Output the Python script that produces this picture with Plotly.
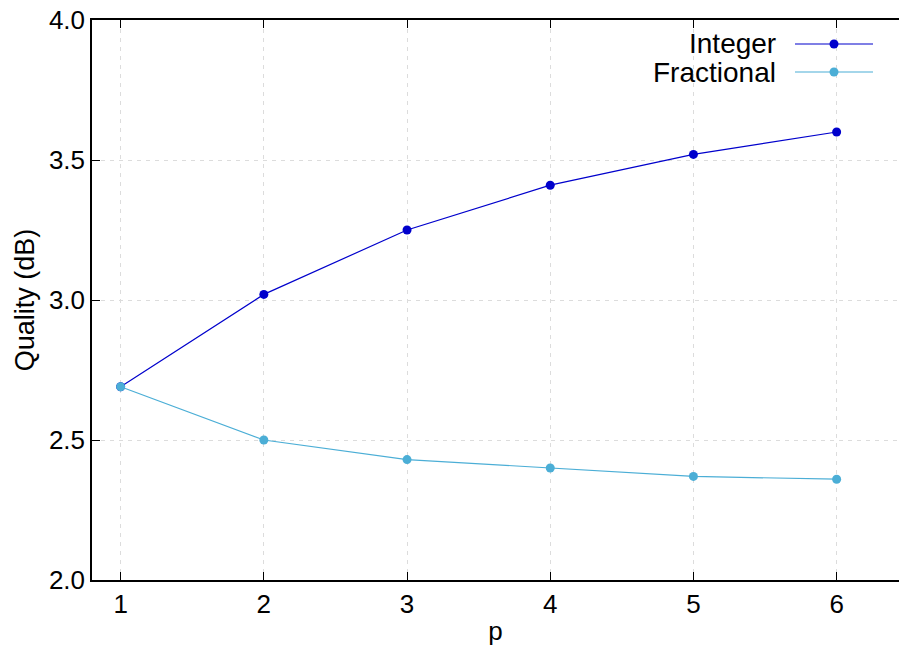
import plotly.graph_objects as go

p_values = [1, 2, 3, 4, 5, 6]
integer_quality = [2.69, 3.02, 3.25, 3.41, 3.52, 3.60]
fractional_quality = [2.69, 2.50, 2.43, 2.40, 2.37, 2.36]
series_names = ["Integer", "Fractional"]
series_colors = ["#0000CC", "#4BAED6"]
x_ticks = [1, 2, 3, 4, 5, 6]
y_ticks = [2.0, 2.5, 3.0, 3.5, 4.0]

FONT = "Liberation Sans, Arial, sans-serif"

fig = go.Figure()
for name, vals, col in zip(series_names, [integer_quality, fractional_quality], series_colors):
    fig.add_trace(go.Scatter(
        x=p_values, y=vals, mode="lines+markers", name=name,
        line=dict(color=col, width=1.2),
        marker=dict(color=col, size=9),
        showlegend=False,
    ))

W, H = 899, 646
ml, mr, mt, mb = 92, 0, 20, 66
pw, ph = W - ml - mr, H - mt - mb

# custom legend (text left of sample, as in reference)
legend_rows = [44, 72]
for name, col, yy in zip(series_names, series_colors, legend_rows):
    yp = 1 - (yy - mt) / ph
    x_text = (778 - ml) / pw
    x0 = (795 - ml) / pw
    x1 = (873 - ml) / pw
    xm = (834 - ml) / pw
    fig.add_annotation(x=x_text, y=yp, xref="paper", yref="paper", text=name,
                       showarrow=False, xanchor="right", yanchor="middle",
                       font=dict(family=FONT, size=28, color="black"))
    fig.add_shape(type="line", xref="paper", yref="paper", x0=x0, x1=x1, y0=yp, y1=yp,
                  line=dict(color=col, width=1.2))
    r = 4.5
    fig.add_shape(type="circle", xref="paper", yref="paper",
                  x0=xm - r / pw, x1=xm + r / pw, y0=yp - r / ph, y1=yp + r / ph,
                  fillcolor=col, line=dict(color=col, width=0))

fig.update_layout(
    width=W, height=H,
    margin=dict(l=ml, r=mr, t=mt, b=mb),
    plot_bgcolor="white", paper_bgcolor="white",
    font=dict(family=FONT, size=26, color="black"),
    xaxis=dict(
        range=[0.8, 0.8 + pw / 143.2], tickvals=x_ticks, ticks="inside", ticklen=8,
        tickcolor="black", showline=True, linecolor="black", linewidth=1.5, mirror="ticks",
        showgrid=True, gridcolor="#dcdcdc", griddash="4px,5px", gridwidth=1, zeroline=False,
        title=dict(text="p", font=dict(size=26), standoff=4),
        tickfont=dict(size=26),
    ),
    yaxis=dict(
        range=[2.0, 4.0], tickvals=y_ticks, tickformat=".1f", ticks="inside", ticklen=8,
        tickcolor="black", showline=True, linecolor="black", linewidth=1.5, mirror=False,
        showgrid=True, gridcolor="#dcdcdc", griddash="4px,5px", gridwidth=1, zeroline=False,
        title=dict(text="Quality (dB)", font=dict(size=27), standoff=6),
        tickfont=dict(size=26),
    ),
)

fig.write_html("out.html")
